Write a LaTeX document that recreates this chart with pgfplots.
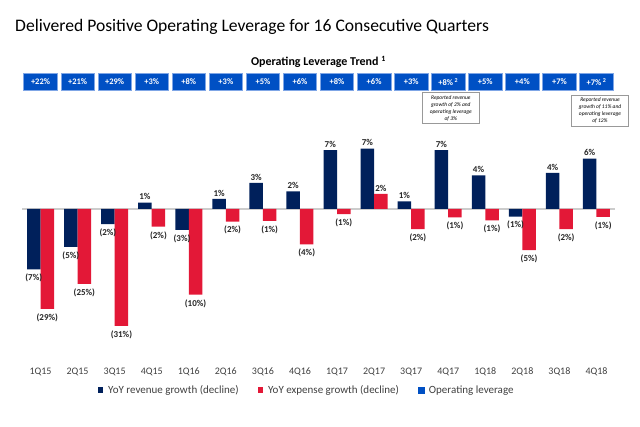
\documentclass[border=0pt]{standalone}
\usepackage{pgfplots}
\pgfplotsset{compat=1.18}
\usepackage{fontspec}
\setmainfont{Carlito}
\definecolor{navy}{HTML}{00205B}
\definecolor{crim}{HTML}{E31837}
\definecolor{oblue}{HTML}{0050C4}
\definecolor{oborder}{HTML}{7FA6E6}
\definecolor{txt}{HTML}{262626}
\definecolor{tick}{HTML}{404040}
\begin{document}
\begin{tikzpicture}[x=1pt,y=1pt]
\useasboundingbox (0,0) rectangle (640,427);
\node[anchor=base west, font=\fontsize{17.6}{20}\selectfont, inner sep=0] at (15,395) {Delivered Positive Operating Leverage for 16 Consecutive Quarters};
\node[font=\bfseries\fontsize{12}{14}\selectfont, inner sep=0] at (318.5,365) {Operating Leverage Trend \textsuperscript{1}};
\node[draw=gray!80, line width=0.5pt, minimum width=57pt, minimum height=30.6pt, inner sep=1pt, align=center, font=\itshape\fontsize{5.5}{7}\selectfont] at (450.8,319) {Reported revenue\\growth of 2\% and\\operating leverage\\of 3\%};
\node[draw=gray!80, line width=0.5pt, minimum width=56.6pt, minimum height=31.7pt, inner sep=1pt, align=center, font=\itshape\fontsize{5.5}{7}\selectfont] at (600,316.2) {Reported revenue\\growth of 11\% and\\operating leverage\\of 12\%};
\begin{axis}[at={(22pt,92pt)}, anchor=south west, scale only axis, width=593pt, height=193.2pt,
 xmin=-0.5, xmax=15.5, ymin=-15, ymax=8, clip=false,
 axis line style={draw=none}, major tick length=0pt, ytick=\empty,
 xtick={0,...,15},
 xticklabels={1Q15,2Q15,3Q15,4Q15,1Q16,2Q16,3Q16,4Q16,1Q17,2Q17,3Q17,4Q17,1Q18,2Q18,3Q18,4Q18},
 xticklabel style={font=\fontsize{10}{12}\selectfont, text=tick, anchor=center, yshift=-37pt},
 point meta=explicit symbolic,
 legend columns=3,
 legend style={draw=none, at={(0.48,-0.285)}, anchor=center, font=\fontsize{11}{13}\selectfont, text=tick,
   /tikz/every even column/.append style={column sep=17pt}, /tikz/every odd column/.append style={column sep=3pt}},
 legend cell align=left,
 barlab/.style={nodes near coords, visualization depends on={rawy \as \rawy},
   every node near coord/.append style={font=\bfseries\fontsize{9}{10}\selectfont, text=txt, inner sep=2.5pt},
   every node near coord/.append code={\ifdim\rawy pt<0pt\pgfkeysalso{/tikz/anchor=north,/tikz/yshift=-2pt}\else\pgfkeysalso{/tikz/anchor=south}\fi}},
]
\draw[color=gray!40, line width=1.3pt] (axis cs:-0.5,0) -- (axis cs:15.5,0);
\addplot[ybar, bar width=13.5pt, bar shift=0pt, fill=navy, draw=none, barlab,
  legend image code/.code={\fill[navy] (0pt,-3pt) rectangle (5.5pt,3pt);}]
coordinates {(-0.182,-7.2) [(7\%)] (0.818,-4.5) [(5\%)] (1.818,-1.8) [(2\%)] (2.818,0.75) [1\%] (3.818,-2.5) [(3\%)] (4.818,1.2) [1\%] (5.818,3.1) [3\%] (6.818,2.1) [2\%] (7.818,7.0) [7\%] (8.818,7.2) [7\%] (9.818,0.9) [1\%] (10.818,7.0) [7\%] (11.818,4.0) [4\%] (12.818,-0.9) [(1\%)] (13.818,4.3) [4\%] (14.818,6.0) [6\%]};
\addlegendentry{YoY revenue growth (decline)}
\addplot[ybar, bar width=13.5pt, bar shift=0pt, fill=crim, draw=none, barlab,
  legend image code/.code={\fill[crim] (0pt,-3pt) rectangle (5.5pt,3pt);}]
coordinates {(0.182,-11.9) [(29\%)] (1.182,-8.9) [(25\%)] (2.182,-13.9) [(31\%)] (3.182,-2.1) [(2\%)] (4.182,-10.2) [(10\%)] (5.182,-1.5) [(2\%)] (6.182,-1.4) [(1\%)] (7.182,-4.2) [(4\%)] (8.182,-0.6) [(1\%)] (9.182,1.8) [2\%] (10.182,-2.4) [(2\%)] (11.182,-1.0) [(1\%)] (12.182,-1.35) [(1\%)] (13.182,-4.9) [(5\%)] (14.182,-2.4) [(2\%)] (15.182,-0.95) [(1\%)]};
\addlegendentry{YoY expense growth (decline)}
\addplot[draw=none, mark=none, forget plot, nodes near coords,
  every node near coord/.style={anchor=south, fill=oblue, draw=oborder, line width=0.6pt, text=white, minimum width=33.5pt, minimum height=17.7pt, inner sep=0pt, font=\bfseries\fontsize{8.5}{10}\selectfont}]
coordinates {(0,14.05) [+22\%] (1,14.05) [+21\%] (2,14.05) [+29\%] (3,14.05) [+3\%] (4,14.05) [+8\%] (5,14.05) [+3\%] (6,14.05) [+5\%] (7,14.05) [+6\%] (8,14.05) [+8\%] (9,14.05) [+6\%] (10,14.05) [+3\%] (11,14.05) [+8\%\,\textsuperscript{2}] (12,14.05) [+5\%] (13,14.05) [+4\%] (14,14.05) [+7\%] (15,14.05) [+7\%\,\textsuperscript{2}]};
\addlegendimage{legend image code/.code={\fill[oblue] (0pt,-3pt) rectangle (5.5pt,3pt);}}
\addlegendentry{Operating leverage}
\end{axis}
\end{tikzpicture}
\end{document}
